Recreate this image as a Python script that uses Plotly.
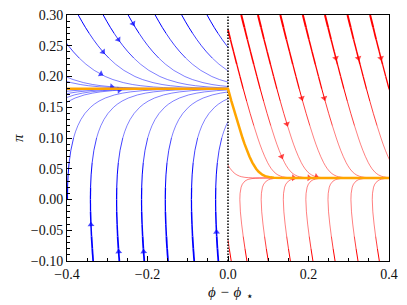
import numpy as np
import plotly.graph_objects as go

# ---------------- data ----------------
LEFT_ATTRACTOR = 0.18      # pi level the blue flow converges to
RIGHT_ATTRACTOR = 0.035    # pi level the red flow converges to
BOUNDARY = 0.0             # phi - phi_star where the two regions meet
X_RANGE = [-0.4, 0.4]
Y_RANGE = [-0.1, 0.3]

# shape of each streamline family: pi along the line and horizontal offset
left_upper_pi = [0.30, 0.29, 0.28, 0.27, 0.26, 0.25, 0.24, 0.23, 0.22, 0.21, 0.20, 0.195,
                 0.19, 0.187, 0.185, 0.183, 0.182, 0.181, 0.1805, 0.1802, 0.1801, 0.18003, 0.18]
left_upper_dx = [0.0, 0.0086, 0.0176, 0.0273, 0.0377, 0.0490, 0.0616, 0.0759, 0.0926, 0.1132,
                 0.1408, 0.1598, 0.1858, 0.2082, 0.2290, 0.2603, 0.2850, 0.3269, 0.3687, 0.4238,
                 0.4654, 0.5376, 0.80]

left_lower_pi = [-0.10, -0.08, -0.06, -0.04, -0.02, 0.00, 0.02, 0.04, 0.06, 0.08, 0.10, 0.11,
                 0.12, 0.13, 0.14, 0.15, 0.155, 0.16, 0.165, 0.17, 0.173, 0.175, 0.177, 0.178,
                 0.179, 0.1795, 0.1798, 0.1799, 0.17995, 0.17998, 0.18]
left_lower_dx = [0.0, -0.0022, -0.0041, -0.0055, -0.0065, -0.0068, -0.0064, -0.0051, -0.0025,
                 0.0018, 0.0085, 0.0132, 0.0191, 0.0267, 0.0368, 0.0507, 0.0600, 0.0717, 0.0873,
                 0.1099, 0.1303, 0.1499, 0.1798, 0.2038, 0.2451, 0.2865, 0.3414, 0.3829, 0.4245,
                 0.4795, 0.80]

right_upper_pi = [0.30, 0.28, 0.26, 0.24, 0.22, 0.20, 0.18, 0.16, 0.14, 0.12, 0.10, 0.09, 0.08,
                  0.07, 0.06, 0.055, 0.05, 0.045, 0.042, 0.04, 0.038, 0.037, 0.036, 0.0355,
                  0.0352, 0.0351, 0.03505, 0.03502, 0.035]
right_upper_dx = [0.0, 0.0076, 0.0152, 0.0230, 0.0309, 0.0389, 0.0470, 0.0554, 0.0641, 0.0733,
                  0.0831, 0.0883, 0.0940, 0.1003, 0.1075, 0.1118, 0.1168, 0.1232, 0.1284, 0.1330,
                  0.1396, 0.1447, 0.1531, 0.1614, 0.1721, 0.1803, 0.1884, 0.1991, 0.70]

right_lower_pi = [-0.10, -0.08, -0.06, -0.04, -0.02, 0.00, 0.01, 0.02, 0.025, 0.03, 0.032,
                  0.033, 0.034, 0.0345, 0.0348, 0.0349, 0.03495, 0.035]
right_lower_dx = [0.0, -0.0048, -0.0092, -0.0131, -0.0162, -0.0176, -0.0170, -0.0144, -0.0113,
                  -0.0049, 0.0004, 0.0048, 0.0126, 0.0205, 0.0311, 0.0391, 0.0472, 0.50]

# one point each streamline passes through (x, pi) and where it starts (pi, or None)
left_upper_x = [-0.372, -0.310, -0.248, -0.181, -0.115, -0.052, -0.400, -0.400, -0.400]
left_upper_at = [0.30, 0.30, 0.30, 0.30, 0.30, 0.30, 0.253, 0.199, 0.192]
left_upper_start = [None] * 9

left_lower_x = [-0.335, -0.270, -0.208, -0.149, -0.084, -0.024, -0.400, -0.400, -0.400, -0.400, -0.399]
left_lower_at = [-0.10, -0.10, -0.10, -0.10, -0.10, -0.10, 0.176, 0.172, 0.166, 0.158, 0.0]
left_lower_start = [None] * 10 + [0.0]

right_upper_x = [0.033, 0.0745, 0.130, 0.186, 0.241, 0.297, 0.353, 0.0, 0.0]
right_upper_at = [0.30, 0.30, 0.30, 0.30, 0.30, 0.30, 0.30, 0.276, 0.056]
right_upper_start = [None] * 7 + [0.276, 0.056]

right_lower_x = [0.008, 0.047, 0.100, 0.155, 0.211, 0.266, 0.323, 0.376]
right_lower_at = [-0.10] * 8
right_lower_start = [None] * 8

# arrow heads: family, streamline index, pi
arrow_family = ["LU", "LU", "LU", "LU", "LU", "LL", "LL", "LL", "LL", "LL",
                "RU", "RU", "RU", "RU", "RU", "RU", "RU", "RU", "RU", "RU"]
arrow_curve = [0, 1, 2, 6, 7, 9, 0, 1, 2, 5,
               4, 5, 6, 2, 3, 1, 0, 7, 0, 1]
arrow_pi = [0.240, 0.260, 0.286, 0.204, 0.1833, 0.1777, -0.041, -0.085, -0.085, -0.053,
            0.230, 0.230, 0.230, 0.165, 0.165, 0.123, 0.070, 0.0352, 0.0353, 0.037]

BLUE = "#0000ff"
RED = "#ff0000"
ORANGE = "#ffa500"

FAMILIES = {
    "LU": dict(pi=left_upper_pi, dx=left_upper_dx, x=left_upper_x, at=left_upper_at,
               start=left_upper_start, color=BLUE, attr=LEFT_ATTRACTOR, side=-1),
    "LL": dict(pi=left_lower_pi, dx=left_lower_dx, x=left_lower_x, at=left_lower_at,
               start=left_lower_start, color=BLUE, attr=LEFT_ATTRACTOR, side=-1),
    "RU": dict(pi=right_upper_pi, dx=right_upper_dx, x=right_upper_x, at=right_upper_at,
               start=right_upper_start, color=RED, attr=RIGHT_ATTRACTOR, side=1),
    "RL": dict(pi=right_lower_pi, dx=right_lower_dx, x=right_lower_x, at=right_lower_at,
               start=right_lower_start, color=RED, attr=RIGHT_ATTRACTOR, side=1),
}


def place(t_pi, t_dx, ax, api, start=None):
    t_pi = np.asarray(t_pi, float)
    t_dx = np.asarray(t_dx, float)
    order = np.argsort(t_pi)
    off = np.interp(api, t_pi[order], t_dx[order])
    xs = ax + t_dx - off
    ys = t_pi.copy()
    if start is not None:
        sgn = np.sign(t_pi[-1] - t_pi[0])
        keep = sgn * (t_pi - start) > 0
        xs0 = ax + np.interp(start, t_pi[order], t_dx[order]) - off
        xs = np.concatenate([[xs0], xs[keep]])
        ys = np.concatenate([[start], ys[keep]])
    return xs, ys


def clip_side(xs, ys, side):
    # keep the first run of points on the streamline's own side of the boundary
    ox, oy = [xs[0]], [ys[0]]
    for i in range(1, len(xs)):
        if side * (xs[i] - BOUNDARY) >= 0:
            ox.append(xs[i]); oy.append(ys[i])
        else:
            f = (BOUNDARY - xs[i - 1]) / (xs[i] - xs[i - 1])
            ox.append(BOUNDARY); oy.append(ys[i - 1] + f * (ys[i] - ys[i - 1]))
            break
    return np.array(ox), np.array(oy)


curves = {}
for key, fam in FAMILIES.items():
    curves[key] = []
    for ax, api, st in zip(fam["x"], fam["at"], fam["start"]):
        xs, ys = place(fam["pi"], fam["dx"], ax, api, st)
        xs, ys = clip_side(xs, ys, fam["side"])
        curves[key].append((xs, ys))

fig = go.Figure()

# streamlines, width following the flow speed
buckets = {}
for key, fam in FAMILIES.items():
    a = fam["attr"]
    for xs, ys in curves[key]:
        for i in range(len(xs) - 1):
            pm = 0.5 * (ys[i] + ys[i + 1])
            speed = np.hypot(pm, 3 * (pm - a))
            w = float(np.clip(2.3 * speed, 0.5, 2.2))
            lvl = round(w * 4) / 4
            bx, by = buckets.setdefault((fam["color"], lvl), ([], []))
            bx.extend([xs[i], xs[i + 1], None])
            by.extend([ys[i], ys[i + 1], None])

for (color, lvl), (bx, by) in sorted(buckets.items(), key=lambda kv: kv[0][1]):
    fig.add_trace(go.Scatter(x=bx, y=by, mode="lines",
                             line=dict(color=color, width=lvl),
                             hoverinfo="skip", showlegend=False))

# arrow heads
for color in (BLUE, RED):
    ax_list, ay_list, sizes = [], [], []
    for fam_key, ci, p in zip(arrow_family, arrow_curve, arrow_pi):
        fam = FAMILIES[fam_key]
        if fam["color"] != color:
            continue
        xs, ys = curves[fam_key][ci]
        order = np.argsort(ys)
        sgn = np.sign(ys[-1] - ys[0])
        step = 0.0003 if abs(p - fam["attr"]) < 0.003 else 0.003
        pp = p - sgn * step
        x_a = np.interp(p, ys[order], xs[order])
        x_p = np.interp(pp, ys[order], xs[order])
        ax_list += [x_p, x_a]
        ay_list += [pp, p]
        sizes += [0, 6]
    fig.add_trace(go.Scatter(x=ax_list, y=ay_list, mode="markers",
                             marker=dict(symbol="triangle-up", size=sizes, color=color,
                                         angleref="previous", line=dict(width=0)),
                             hoverinfo="skip", showlegend=False))

# boundary
fig.add_trace(go.Scatter(x=[BOUNDARY, BOUNDARY], y=Y_RANGE, mode="lines",
                         line=dict(color="black", width=1.5, dash="1.5px,1.5px"),
                         hoverinfo="skip", showlegend=False))

# attractor (orange)
ox_r, oy_r = place(right_upper_pi, right_upper_dx, BOUNDARY, LEFT_ATTRACTOR, LEFT_ATTRACTOR)
ox = np.concatenate([[X_RANGE[0]], ox_r])
oy = np.concatenate([[LEFT_ATTRACTOR], oy_r])
fig.add_trace(go.Scatter(x=ox, y=oy, mode="lines",
                         line=dict(color=ORANGE, width=2.5),
                         hoverinfo="skip", showlegend=False))

SERIF = "Liberation Serif, Times New Roman, DejaVu Serif, serif"
TICKFONT = dict(family=SERIF, size=14, color="#111111")
TITLEFONT = dict(family=SERIF, size=15, color="#111111", style="italic")
fig.update_layout(
    width=407, height=305,
    margin=dict(l=67, r=18, t=15, b=44),
    paper_bgcolor="white", plot_bgcolor="white",
    showlegend=False, hovermode=False,
    xaxis=dict(range=X_RANGE, dtick=0.2, tick0=0, tickformat=".1f",
               ticks="inside", ticklen=5, tickwidth=1, tickcolor="black",
               minor=dict(dtick=0.05, tick0=0, ticks="inside", ticklen=3, tickcolor="black"),
               showline=True, linecolor="black", linewidth=1, mirror=True,
               showgrid=False, zeroline=False, tickfont=TICKFONT, automargin=False),
    yaxis=dict(range=Y_RANGE, dtick=0.05, tick0=0, tickformat=".2f",
               ticks="inside", ticklen=5, tickwidth=1, tickcolor="black",
               minor=dict(dtick=0.01, tick0=0, ticks="inside", ticklen=3, tickcolor="black"),
               showline=True, linecolor="black", linewidth=1, mirror=True,
               showgrid=False, zeroline=False, tickfont=TICKFONT, automargin=False),
    annotations=[
        dict(text="ϕ − ϕ", xref="paper", yref="paper",
             x=0.5, y=-0.125, xanchor="right", yanchor="middle", xshift=15,
             showarrow=False, font=TITLEFONT),
        dict(text="⋆", xref="paper", yref="paper",
             x=0.5, y=-0.125, xanchor="left", yanchor="middle", xshift=15.5, yshift=-4,
             showarrow=False, font=dict(family="DejaVu Sans", size=12, color="#111111")),
        dict(text="π", xref="paper", yref="paper", textangle=-90,
             x=-0.152, y=0.5, xanchor="center", yanchor="middle", showarrow=False,
             font=TITLEFONT),
    ],
)

fig.write_html("out.html", config={"displayModeBar": False},
               post_script="document.body.style.margin='0';")
